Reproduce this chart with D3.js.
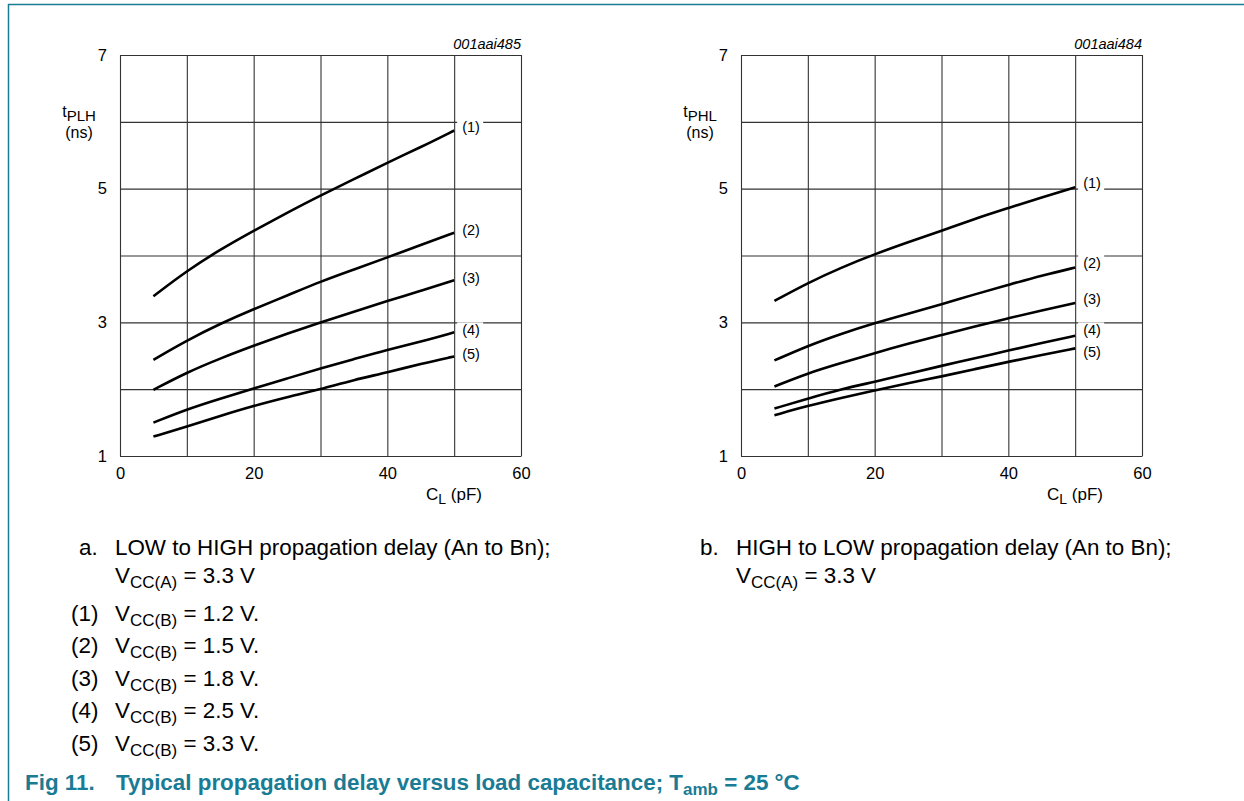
<!DOCTYPE html>
<html><head><meta charset="utf-8">
<script src="https://cdn.jsdelivr.net/npm/d3@7"></script>
<style>
body{margin:0;background:#fff}
svg{display:block}
text{font-family:Arial,"Liberation Sans",Helvetica,sans-serif;fill:#000}
</style>
</head><body>
<svg id="c" width="1244" height="801"></svg>
<script>
// ---- data ----
const capacitance = [5,10,15,20,25,30,35,40,45,50];
const tPLH_1 = [3.39,3.77,4.09,4.37,4.64,4.90,5.14,5.39,5.62,5.87];
const tPLH_2 = [2.44,2.73,2.98,3.20,3.40,3.61,3.79,3.97,4.16,4.34];
const tPLH_3 = [1.99,2.25,2.46,2.65,2.83,3.00,3.16,3.32,3.47,3.63];
const tPLH_4 = [1.50,1.70,1.86,2.01,2.16,2.31,2.45,2.59,2.71,2.85];
const tPLH_5 = [1.29,1.44,1.60,1.75,1.88,2.00,2.14,2.25,2.38,2.49];
const tPHL_1 = [3.32,3.59,3.82,4.02,4.20,4.37,4.55,4.71,4.87,5.02];
const tPHL_2 = [2.43,2.65,2.83,2.99,3.13,3.27,3.42,3.56,3.70,3.82];
const tPHL_3 = [2.04,2.24,2.39,2.54,2.68,2.81,2.94,3.06,3.18,3.29];
const tPHL_4 = [1.71,1.86,2.00,2.11,2.23,2.35,2.46,2.58,2.69,2.80];
const tPHL_5 = [1.61,1.75,1.87,1.98,2.09,2.19,2.30,2.41,2.51,2.61];
const curveLabels = ["(1)","(2)","(3)","(4)","(5)"];
const labelLevelPLH = [5.92,4.38,3.67,2.88,2.53];
const labelLevelPHL = [5.09,3.89,3.35,2.88,2.55];
const xTicks = [0,20,40,60];
const yTicks = [1,3,5,7];
const xGrid = [0,10,20,30,40,50,60];
const yGrid = [1,2,3,4,5,6,7];
const vccB = ["1.2","1.5","1.8","2.5","3.3"];

const svg = d3.select("#c");
const teal = "#1a7b94";

// frame
svg.append("line").attr("x1",8).attr("x2",1244).attr("y1",4.5).attr("y2",4.5).attr("stroke",teal).attr("stroke-width",1.5);
svg.append("line").attr("x1",8.5).attr("x2",8.5).attr("y1",4).attr("y2",801).attr("stroke",teal).attr("stroke-width",1.5);

function panel(opts){
  const x = d3.scaleLinear().domain([0,60]).range([opts.left, opts.left+401]);
  const y = d3.scaleLinear().domain([1,7]).range([456,55]);
  const g = svg.append("g");
  // grid
  g.selectAll(".gx").data(xGrid).enter().append("line")
    .attr("x1",d=>x(d)+0.5).attr("x2",d=>x(d)+0.5).attr("y1",y(1)).attr("y2",y(7))
    .attr("stroke","#333").attr("stroke-width",1.1);
  g.selectAll(".gy").data(yGrid).enter().append("line")
    .attr("x1",x(0)).attr("x2",x(60)+0.5).attr("y1",d=>y(d)+0.5).attr("y2",d=>y(d)+0.5)
    .attr("stroke","#333").attr("stroke-width",1.1);
  // axes labels via d3 axes
  const ax = g.append("g").attr("transform",`translate(0,${y(1)})`)
    .call(d3.axisBottom(x).tickValues(xTicks).tickSize(0).tickPadding(11).tickFormat(d3.format("d")));
  ax.select(".domain").remove();
  ax.selectAll("text").attr("font-size",16.5).attr("font-family","Arial,'Liberation Sans',sans-serif").attr("fill","#000");
  const ay = g.append("g").attr("transform",`translate(${x(0)},0)`)
    .call(d3.axisLeft(y).tickValues(yTicks).tickSize(0).tickPadding(13).tickFormat(d3.format("d")));
  ay.select(".domain").remove();
  ay.selectAll("text").attr("font-size",16.5).attr("font-family","Arial,'Liberation Sans',sans-serif").attr("fill","#000");

  // curves
  const line = d3.line().x((d,i)=>x(capacitance[i])).y(d=>y(d)).curve(d3.curveBasis);
  g.selectAll(".curve").data(opts.series).enter().append("path")
    .attr("d",line).attr("fill","none").attr("stroke","#000").attr("stroke-width",2.6);

  // labels with knockouts
  opts.levels.forEach((lv,i)=>{
    const cx = x(50);
    g.append("rect").attr("x",cx+3).attr("y",y(lv)-8).attr("width",26).attr("height",16).attr("fill","#fff");
    g.append("text").attr("x",cx+8).attr("y",y(lv)+5).attr("font-size",14.5).text(curveLabels[i]);
  });

  // code id
  g.append("text").attr("x",x(60)).attr("y",49).attr("text-anchor","end")
    .attr("font-size",14.5).attr("font-style","italic").text(opts.code);
  // y label
  const yl = g.append("text").attr("x",x(0)-41).attr("y",117).attr("text-anchor","middle").attr("font-size",16);
  yl.append("tspan").text("t");
  yl.append("tspan").attr("dy",4).attr("font-size",15).text(opts.sub);
  g.append("text").attr("x",x(0)-41).attr("y",138).attr("text-anchor","middle").attr("font-size",16).text("(ns)");
  // x label
  const xl = g.append("text").attr("x",x(60)-39).attr("y",500).attr("text-anchor","end").attr("font-size",17);
  xl.append("tspan").text("C");
  xl.append("tspan").attr("dy",4).attr("font-size",14).text("L");
  xl.append("tspan").attr("dy",-4).text(" (pF)");
  return {x,y};
}

panel({left:120, series:[tPLH_1,tPLH_2,tPLH_3,tPLH_4,tPLH_5], levels:labelLevelPLH, code:"001aai485", sub:"PLH"});
panel({left:741, series:[tPHL_1,tPHL_2,tPHL_3,tPHL_4,tPHL_5], levels:labelLevelPHL, code:"001aai484", sub:"PHL"});

// captions
const capFont = 22.4;
function vccText(sel, x, yb, sub, tail){
  const t = svg.append("text").attr("x",x).attr("y",yb).attr("font-size",capFont);
  t.append("tspan").text("V");
  t.append("tspan").attr("dy",5).attr("font-size",capFont*0.76).text(sub);
  t.append("tspan").attr("dy",-5).text(tail);
  return t;
}
svg.append("text").attr("x",79).attr("y",555).attr("font-size",capFont).text("a.");
svg.append("text").attr("x",115).attr("y",555).attr("font-size",capFont).text("LOW to HIGH propagation delay (An to Bn);");
vccText(svg,115,583,"CC(A)"," = 3.3 V");
svg.append("text").attr("x",700).attr("y",555).attr("font-size",capFont).text("b.");
svg.append("text").attr("x",736).attr("y",555).attr("font-size",capFont).text("HIGH to LOW propagation delay (An to Bn);");
vccText(svg,736,583,"CC(A)"," = 3.3 V");

const legBase = [621,653,686,718,751];
vccB.forEach((v,i)=>{
  svg.append("text").attr("x",71).attr("y",legBase[i]).attr("font-size",capFont).text(curveLabels[i]);
  vccText(svg,115,legBase[i],"CC(B)"," = "+v+" V.");
});

const fig = svg.append("text").attr("y",790).attr("font-size",22.4).attr("font-weight","bold");
fig.append("tspan").attr("x",25).attr("fill",teal).text("Fig 11.");
fig.append("tspan").attr("x",116).attr("fill",teal).text("Typical propagation delay versus load capacitance; T");
fig.append("tspan").attr("dy",5).attr("font-size",17).attr("fill",teal).text("amb");
fig.append("tspan").attr("dy",-5).attr("fill",teal).text(" = 25 °C");
</script>
</body></html>
